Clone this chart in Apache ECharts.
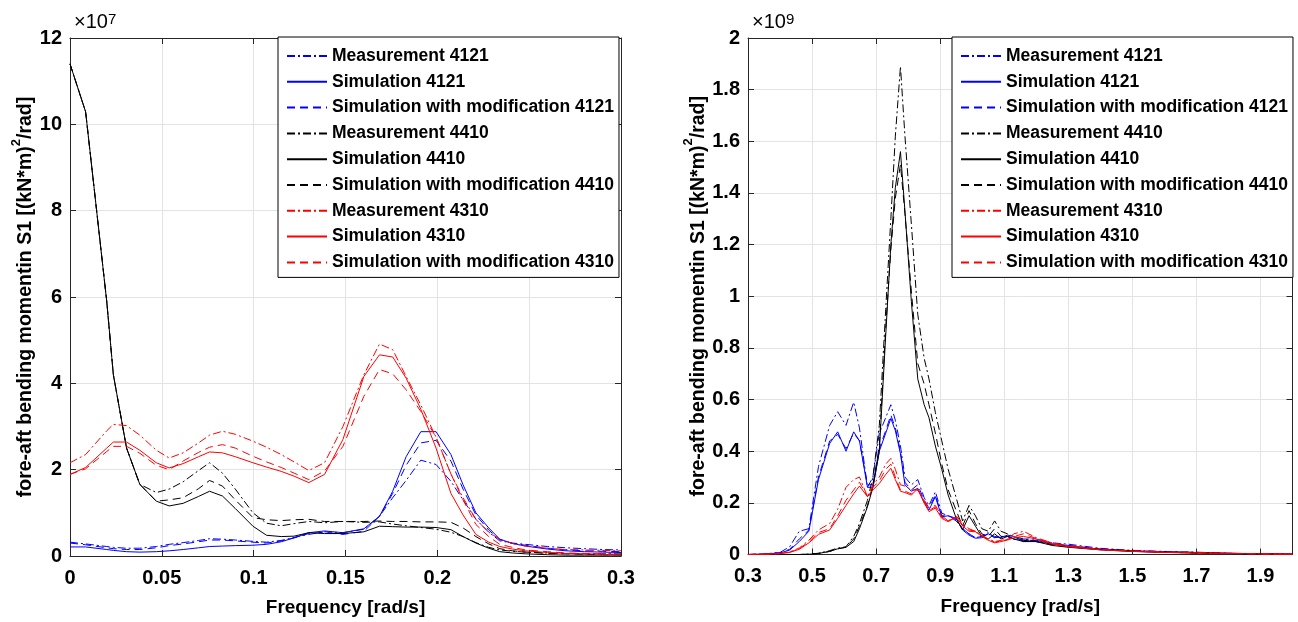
<!DOCTYPE html>
<html><head><meta charset="utf-8">
<script src="https://cdn.jsdelivr.net/npm/echarts@6/dist/echarts.min.js"></script>
<style>html,body{margin:0;padding:0;background:#fff}#c{width:1298px;height:622px}</style>
</head><body><div id="c"></div>
<script>
// ---------- Left panel (values in units of 1e7) ----------
const L_X = [0, 0.0085, 0.02, 0.0236, 0.0308, 0.038, 0.047, 0.054, 0.0616, 0.07, 0.076, 0.083, 0.09, 0.0996, 0.107, 0.115, 0.122, 0.13, 0.1386, 0.1486, 0.16, 0.1685, 0.1757, 0.183, 0.191, 0.1993, 0.2074, 0.214, 0.221, 0.228, 0.234, 0.241, 0.248, 0.26, 0.27, 0.28, 0.29, 0.3];
const L_meas4121 = [0.32, 0.28, 0.22, 0.20, 0.18, 0.18, 0.22, 0.27, 0.31, 0.36, 0.40, 0.39, 0.37, 0.34, 0.32, 0.36, 0.43, 0.50, 0.56, 0.54, 0.62, 0.92, 1.35, 1.75, 2.22, 2.12, 1.73, 1.3, 0.85, 0.55, 0.35, 0.30, 0.27, 0.22, 0.19, 0.17, 0.15, 0.14];
const L_sim4121 = [0.21, 0.21, 0.15, 0.13, 0.10, 0.09, 0.10, 0.12, 0.15, 0.19, 0.22, 0.23, 0.24, 0.25, 0.27, 0.33, 0.42, 0.54, 0.58, 0.54, 0.63, 0.92, 1.5, 2.3, 2.88, 2.88, 2.35, 1.65, 1.0, 0.65, 0.39, 0.29, 0.23, 0.16, 0.12, 0.10, 0.09, 0.08];
const L_mod4121 = [0.30, 0.26, 0.19, 0.17, 0.15, 0.15, 0.19, 0.24, 0.28, 0.33, 0.37, 0.37, 0.35, 0.32, 0.30, 0.35, 0.42, 0.52, 0.55, 0.50, 0.57, 0.92, 1.45, 2.1, 2.62, 2.68, 2.2, 1.55, 0.95, 0.6, 0.38, 0.29, 0.25, 0.18, 0.14, 0.12, 0.11, 0.10];
const L_meas4410 = [11.4, 10.29, 5.9, 4.2, 2.5, 1.66, 1.47, 1.55, 1.72, 1.98, 2.16, 1.92, 1.55, 1.0, 0.76, 0.70, 0.75, 0.80, 0.77, 0.80, 0.78, 0.79, 0.74, 0.70, 0.66, 0.62, 0.55, 0.45, 0.31, 0.20, 0.14, 0.11, 0.09, 0.07, 0.06, 0.05, 0.05, 0.05];
const L_sim4410 = [11.4, 10.29, 5.9, 4.2, 2.5, 1.66, 1.27, 1.16, 1.22, 1.38, 1.50, 1.39, 1.1, 0.69, 0.48, 0.45, 0.46, 0.54, 0.52, 0.52, 0.56, 0.69, 0.68, 0.67, 0.67, 0.66, 0.61, 0.45, 0.30, 0.18, 0.10, 0.07, 0.05, 0.03, 0.02, 0.02, 0.02, 0.02];
const L_mod4410 = [11.4, 10.29, 5.9, 4.2, 2.5, 1.66, 1.27, 1.30, 1.35, 1.56, 1.75, 1.62, 1.3, 0.89, 0.84, 0.82, 0.84, 0.85, 0.80, 0.80, 0.80, 0.81, 0.80, 0.80, 0.79, 0.79, 0.78, 0.65, 0.45, 0.28, 0.17, 0.12, 0.09, 0.06, 0.05, 0.04, 0.03, 0.03];
const L_meas4310 = [2.16, 2.35, 2.9, 3.05, 3.02, 2.8, 2.45, 2.27, 2.39, 2.62, 2.80, 2.89, 2.82, 2.66, 2.52, 2.35, 2.18, 1.98, 2.16, 3.0, 4.2, 4.91, 4.78, 4.16, 3.5, 2.75, 1.9, 1.35, 0.85, 0.55, 0.39, 0.29, 0.23, 0.18, 0.15, 0.14, 0.13, 0.12];
const L_sim4310 = [1.89, 2.05, 2.5, 2.64, 2.64, 2.45, 2.16, 2.04, 2.14, 2.30, 2.41, 2.39, 2.30, 2.16, 2.06, 1.96, 1.85, 1.70, 1.89, 2.70, 4.16, 4.66, 4.61, 4.12, 3.4, 2.5, 1.45, 0.95, 0.5, 0.32, 0.22, 0.16, 0.12, 0.08, 0.06, 0.05, 0.04, 0.03];
const L_mod4310 = [1.89, 2.02, 2.42, 2.54, 2.54, 2.38, 2.10, 2.0, 2.2, 2.40, 2.52, 2.58, 2.5, 2.31, 2.18, 2.05, 1.92, 1.77, 1.97, 2.54, 3.70, 4.32, 4.22, 3.85, 3.35, 2.75, 1.9, 1.3, 0.73, 0.45, 0.27, 0.2, 0.14, 0.1, 0.07, 0.06, 0.05, 0.04];

// ---------- Right panel (values in units of 1e9) ----------
const R_X = [0.3, 0.35, 0.4, 0.43, 0.46, 0.49, 0.52, 0.555, 0.58, 0.606, 0.63, 0.648, 0.673, 0.69, 0.71, 0.73, 0.746, 0.76, 0.776, 0.79, 0.81, 0.83, 0.85, 0.865, 0.885, 0.905, 0.925, 0.95, 0.97, 0.99, 1.01, 1.03, 1.05, 1.07, 1.09, 1.11, 1.13, 1.16, 1.2, 1.25, 1.3, 1.4, 1.5, 1.6, 1.7, 1.8, 1.9, 2.0];
const R_meas4121 = [0, 0.002, 0.008, 0.03, 0.09, 0.10, 0.34, 0.50, 0.553, 0.50, 0.59, 0.49, 0.26, 0.30, 0.47, 0.53, 0.58, 0.52, 0.42, 0.30, 0.27, 0.29, 0.22, 0.19, 0.243, 0.16, 0.15, 0.13, 0.10, 0.08, 0.065, 0.07, 0.085, 0.065, 0.07, 0.07, 0.06, 0.06, 0.06, 0.045, 0.04, 0.024, 0.016, 0.012, 0.009, 0.005, 0.003, 0.001];
const R_sim4121 = [0, 0.002, 0.006, 0.017, 0.05, 0.09, 0.29, 0.43, 0.475, 0.40, 0.475, 0.44, 0.26, 0.26, 0.40, 0.47, 0.527, 0.48, 0.39, 0.27, 0.245, 0.256, 0.20, 0.172, 0.224, 0.146, 0.15, 0.14, 0.095, 0.075, 0.063, 0.065, 0.08, 0.07, 0.065, 0.075, 0.07, 0.05, 0.055, 0.04, 0.035, 0.02, 0.014, 0.01, 0.008, 0.004, 0.002, 0.001];
const R_mod4121 = [0, 0.002, 0.007, 0.02, 0.06, 0.095, 0.30, 0.44, 0.465, 0.41, 0.47, 0.44, 0.27, 0.27, 0.41, 0.48, 0.54, 0.49, 0.40, 0.28, 0.25, 0.27, 0.21, 0.18, 0.23, 0.15, 0.15, 0.135, 0.10, 0.08, 0.065, 0.07, 0.08, 0.065, 0.07, 0.07, 0.065, 0.055, 0.055, 0.045, 0.035, 0.02, 0.015, 0.011, 0.008, 0.005, 0.002, 0.001];
const R_meas4410 = [0, 0, 0, 0, 0, 0.001, 0.005, 0.015, 0.025, 0.03, 0.07, 0.12, 0.21, 0.30, 0.50, 0.95, 1.30, 1.62, 1.89, 1.62, 1.28, 0.93, 0.76, 0.68, 0.55, 0.44, 0.33, 0.22, 0.13, 0.19, 0.15, 0.10, 0.09, 0.13, 0.09, 0.08, 0.07, 0.06, 0.05, 0.04, 0.03, 0.02, 0.013, 0.009, 0.006, 0.004, 0.002, 0.001];
const R_sim4410 = [0, 0, 0, 0, 0, 0.001, 0.004, 0.012, 0.022, 0.028, 0.05, 0.10, 0.185, 0.26, 0.40, 0.85, 1.20, 1.42, 1.56, 1.33, 0.98, 0.68, 0.58, 0.53, 0.42, 0.33, 0.23, 0.14, 0.095, 0.15, 0.11, 0.07, 0.06, 0.08, 0.06, 0.07, 0.06, 0.05, 0.05, 0.035, 0.028, 0.018, 0.012, 0.008, 0.006, 0.004, 0.002, 0.001];
const R_mod4410 = [0, 0, 0, 0, 0, 0.001, 0.004, 0.012, 0.022, 0.028, 0.06, 0.11, 0.19, 0.27, 0.42, 0.88, 1.18, 1.38, 1.51, 1.32, 1.02, 0.74, 0.66, 0.58, 0.47, 0.35, 0.25, 0.17, 0.11, 0.17, 0.12, 0.08, 0.07, 0.10, 0.07, 0.07, 0.06, 0.055, 0.05, 0.038, 0.03, 0.02, 0.013, 0.009, 0.006, 0.004, 0.002, 0.001];
const R_meas4310 = [0, 0.001, 0.004, 0.01, 0.025, 0.055, 0.095, 0.12, 0.175, 0.26, 0.29, 0.30, 0.224, 0.27, 0.30, 0.35, 0.372, 0.33, 0.27, 0.265, 0.25, 0.25, 0.21, 0.18, 0.19, 0.15, 0.13, 0.15, 0.12, 0.10, 0.09, 0.075, 0.06, 0.05, 0.055, 0.06, 0.08, 0.09, 0.065, 0.045, 0.035, 0.02, 0.014, 0.01, 0.007, 0.005, 0.003, 0.001];
const R_sim4310 = [0, 0.001, 0.003, 0.008, 0.02, 0.045, 0.078, 0.095, 0.14, 0.19, 0.235, 0.265, 0.224, 0.25, 0.275, 0.31, 0.334, 0.29, 0.245, 0.24, 0.23, 0.255, 0.20, 0.166, 0.18, 0.14, 0.127, 0.145, 0.11, 0.09, 0.088, 0.07, 0.055, 0.045, 0.05, 0.056, 0.065, 0.07, 0.06, 0.04, 0.03, 0.018, 0.012, 0.008, 0.006, 0.004, 0.002, 0.001];
const R_mod4310 = [0, 0.001, 0.003, 0.009, 0.022, 0.05, 0.085, 0.10, 0.15, 0.21, 0.25, 0.28, 0.224, 0.26, 0.285, 0.33, 0.35, 0.30, 0.25, 0.245, 0.235, 0.25, 0.205, 0.17, 0.185, 0.145, 0.13, 0.145, 0.115, 0.095, 0.09, 0.072, 0.058, 0.048, 0.052, 0.058, 0.07, 0.08, 0.062, 0.042, 0.032, 0.019, 0.013, 0.009, 0.006, 0.004, 0.002, 0.001];

const SERIES_NAMES = ['Measurement 4121', 'Simulation 4121', 'Simulation with modification 4121',
  'Measurement 4410', 'Simulation 4410', 'Simulation with modification 4410',
  'Measurement 4310', 'Simulation 4310', 'Simulation with modification 4310'];
const L_X_TICKS = [0, 0.05, 0.1, 0.15, 0.2, 0.25, 0.3];
const R_X_TICKS = [0.3, 0.5, 0.7, 0.9, 1.1, 1.3, 1.5, 1.7, 1.9];

const FONT = "'Liberation Sans', Arial, Helvetica, sans-serif";
const DASHDOT = [8, 3, 2, 3];
const DASHED = [8, 5];
const colors = ['#0000ff','#0000ff','#0000ff','#000000','#000000','#000000','#ff0000','#ff0000','#ff0000'];
const styles = [DASHDOT, 'solid', DASHED, DASHDOT, 'solid', DASHED, DASHDOT, 'solid', DASHED];

const L_Y = [L_meas4121, L_sim4121, L_mod4121, L_meas4410, L_sim4410, L_mod4410, L_meas4310, L_sim4310, L_mod4310];
const R_Y = [R_meas4121, R_sim4121, R_mod4121, R_meas4410, R_sim4410, R_mod4410, R_meas4310, R_sim4310, R_mod4310];

function mkSeries(xs, ysList, axisIdx) {
  return ysList.map((ys, k) => ({
    name: SERIES_NAMES[k], type: 'line', xAxisIndex: axisIdx, yAxisIndex: axisIdx,
    data: xs.map((x, i) => [x, ys[i]]), symbol: 'none', showSymbol: false,
    lineStyle: { color: colors[k], width: 1, type: styles[k] },
    itemStyle: { color: colors[k] }, animation: false, z: 2 + k
  }));
}

function fmtNum(v) { return String(Math.round(v * 1000) / 1000); }

const gridLineColor = '#e3e3e3';
const axisColor = '#262626';

function mainX(gi, min, max, interval, margin, name, nameGap) {
  return {
    type: 'value', gridIndex: gi, min, max, interval, position: 'bottom',
    name, nameLocation: 'middle', nameGap,
    nameTextStyle: { fontFamily: FONT, fontWeight: 'bold', fontSize: 19, color: '#000' },
    axisLine: { show: true, onZero: false, lineStyle: { color: axisColor, width: 1 } },
    axisTick: { show: true, inside: true, length: 6, lineStyle: { color: axisColor } },
    axisLabel: { fontFamily: FONT, fontWeight: 'bold', fontSize: 20, color: '#000', margin, showMaxLabel: gi === 0,
      formatter: v => fmtNum(v) },
    splitLine: { show: true, lineStyle: { color: gridLineColor, width: 1 } }
  };
}
function topX(gi, min, max, interval) {
  return {
    type: 'value', gridIndex: gi, min, max, interval, position: 'top',
    axisLine: { show: true, onZero: false, lineStyle: { color: axisColor, width: 1 } },
    axisTick: { show: true, inside: true, length: 6, lineStyle: { color: axisColor } },
    axisLabel: { show: false }, splitLine: { show: false }
  };
}
function mainY(gi, max, interval, nameGap) {
  return {
    type: 'value', gridIndex: gi, min: 0, max, interval, position: 'left',
    name: '{n|fore-aft bending momentin S1 [(kN*m)}{s|2}{n|/rad]}', nameLocation: 'middle', nameGap,
    nameTextStyle: { rich: {
      n: { fontFamily: FONT, fontWeight: 'bold', fontSize: 19.5, color: '#000', lineHeight: 26, verticalAlign: 'bottom' },
      s: { fontFamily: FONT, fontWeight: 'bold', fontSize: 13, color: '#000', lineHeight: 13, verticalAlign: 'top' }
    } },
    axisLine: { show: true, onZero: false, lineStyle: { color: axisColor, width: 1 } },
    axisTick: { show: true, inside: true, length: 6, lineStyle: { color: axisColor } },
    axisLabel: { fontFamily: FONT, fontWeight: 'bold', fontSize: 20, color: '#000', margin: 8,
      formatter: v => fmtNum(v) },
    splitLine: { show: true, lineStyle: { color: gridLineColor, width: 1 } }
  };
}
function rightY(gi, max, interval) {
  return {
    type: 'value', gridIndex: gi, min: 0, max, interval, position: 'right',
    axisLine: { show: true, onZero: false, lineStyle: { color: axisColor, width: 1 } },
    axisTick: { show: true, inside: true, length: 6, lineStyle: { color: axisColor } },
    axisLabel: { show: false }, splitLine: { show: false }
  };
}
function mkLegend(left) {
  return {
    data: SERIES_NAMES, orient: 'vertical', left, top: 37,
    backgroundColor: '#fff', borderColor: '#000', borderWidth: 1, borderRadius: 0,
    padding: [10, 5, 6, 8], itemGap: 7.8, itemWidth: 40, itemHeight: 14,
    itemStyle: { opacity: 0 },
    textStyle: { fontFamily: FONT, fontWeight: 'bold', fontSize: 17.5, color: '#000' },
    selectedMode: false
  };
}

const chart = echarts.init(document.getElementById('c'), null, { renderer: 'canvas' });
chart.setOption({
  backgroundColor: '#fff',
  animation: false,
  grid: [
    { left: 70, top: 38, width: 551, height: 519, containLabel: false },
    { left: 748, top: 38, width: 544.5, height: 516.5, containLabel: false }
  ],
  xAxis: [
    mainX(0, 0, 0.3, 0.05, 12, 'Frequency [rad/s]', 42), topX(0, 0, 0.3, 0.05),
    mainX(1, 0.3, 2.0, 0.2, 12, 'Frequency [rad/s]', 43), topX(1, 0.3, 2.0, 0.2)
  ],
  yAxis: [
    mainY(0, 12, 2, 34), rightY(0, 12, 2),
    mainY(1, 2, 0.2, 35), rightY(1, 2, 0.2)
  ],
  legend: [mkLegend(278), mkLegend(952)],
  graphic: [
    { type: 'text', left: 74, top: 12, style: { text: '×10{s|7}', rich: { s: { fontSize: 15, verticalAlign: 'top', fontFamily: FONT } }, font: "20px " + FONT, fill: '#000' } },
    { type: 'text', left: 752, top: 12, style: { text: '×10{s|9}', rich: { s: { fontSize: 15, verticalAlign: 'top', fontFamily: FONT } }, font: "20px " + FONT, fill: '#000' } }
  ],
  series: [].concat(mkSeries(L_X, L_Y, 0), mkSeries(R_X, R_Y, 2))
});
</script>
</body></html>
